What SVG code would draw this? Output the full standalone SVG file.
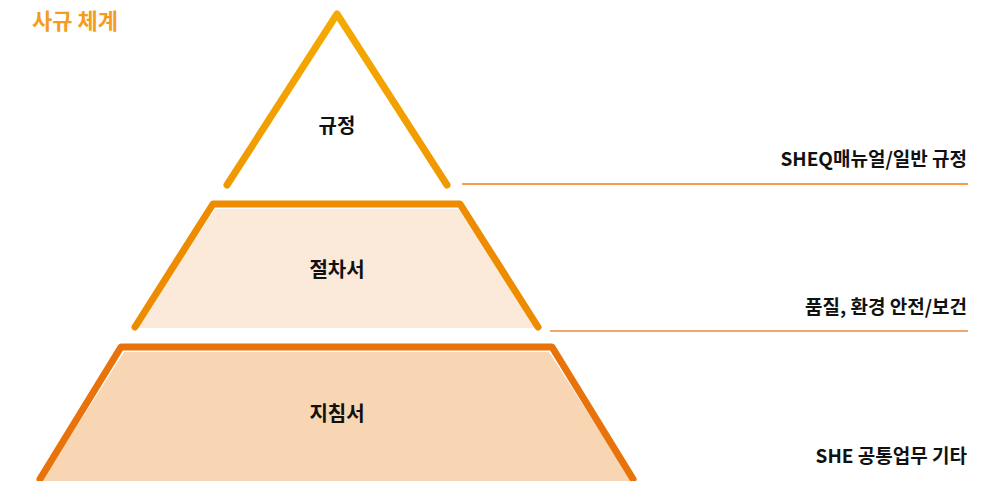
<svg xmlns="http://www.w3.org/2000/svg" width="1008" height="481" viewBox="0 0 1008 481">
<defs>
<style>
.t{font-family:"Noto Sans CJK KR","Noto Sans",sans-serif;font-weight:bold;fill:#111}
.c{font-size:20px;text-anchor:middle}
.r{font-size:19px;text-anchor:end}
.sh{fill:none;stroke:#999;stroke-width:4;filter:url(#blur);opacity:0.6}
.ln{fill:none;stroke-width:1.5}
</style>
<filter id="blur" x="-10%" y="-200%" width="120%" height="500%"><feGaussianBlur stdDeviation="2"/></filter>
<linearGradient id="g1" x1="0" y1="0" x2="0" y2="1"><stop offset="0" stop-color="#F5AA00"/><stop offset="1" stop-color="#F09800"/></linearGradient>
<linearGradient id="g3" x1="0" y1="0" x2="1" y2="0"><stop offset="0" stop-color="#F29A55"/><stop offset="1" stop-color="#F8D0A8"/></linearGradient>
</defs>
<text class="t" x="32" y="29" style="font-size:22px;fill:#F39C1F">사규 체계</text>
<g id="level1">
<line class="sh" x1="232" y1="191" x2="445" y2="191"/>
<polyline points="227,185 337,14 447,185" fill="none" stroke="url(#g1)" stroke-width="7" stroke-linecap="round" stroke-linejoin="round"/>
<text class="t c" x="337" y="133">규정</text>
</g>
<g id="level2">
<line class="sh" x1="138" y1="333" x2="536" y2="333"/>
<polygon points="215,209 459,209 536,328 137,328" fill="#FBE9D9"/>
<polyline points="135,327 213,204 460,204 538,327" fill="none" stroke="#EE8C00" stroke-width="7" stroke-linecap="round" stroke-linejoin="round"/>
<text class="t c" x="337" y="277">절차서</text>
</g>
<g id="level3">
<polygon points="124,352 549,352 632,481 42,481" fill="#F8D5B3"/>
<polyline points="40,479 121,347 552,347 633,479" fill="none" stroke="#E8730A" stroke-width="7" stroke-linecap="round" stroke-linejoin="round"/>
<text class="t c" x="337" y="421">지침서</text>
</g>
<g id="connectors">
<line class="ln" x1="462" y1="184" x2="968" y2="184" stroke="#F07A10"/>
<line class="ln" x1="550" y1="331" x2="968" y2="331" stroke="#EE8A3A"/>
<line class="ln" x1="637" y1="480" x2="968" y2="480" stroke="url(#g3)"/>
</g>
<g id="labels">
<text class="t r" x="967" y="166">SHEQ매뉴얼/일반 규정</text>
<text class="t r" x="967" y="314">품질, 환경 안전/보건</text>
<text class="t r" x="967" y="463">SHE 공통업무 기타</text>
</g>
</svg>
